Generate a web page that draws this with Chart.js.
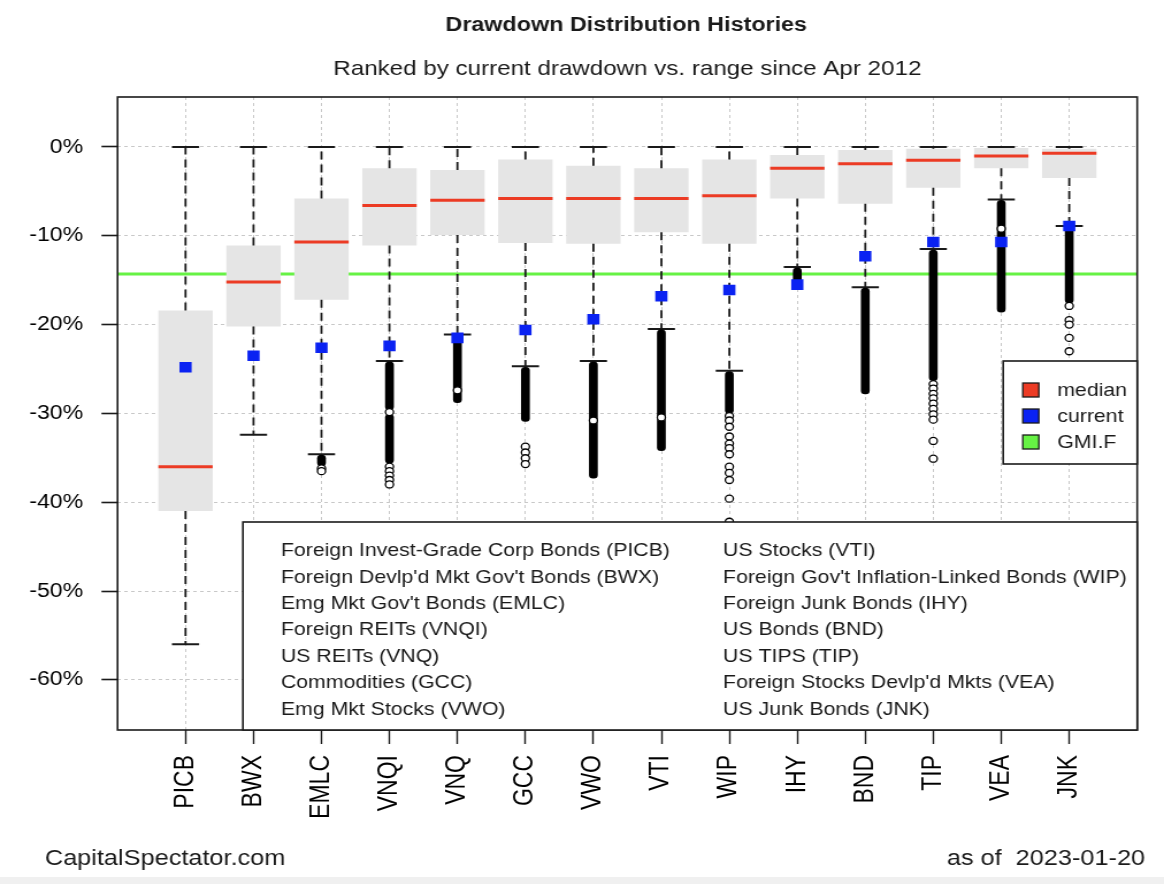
<!DOCTYPE html>
<html><head><meta charset="utf-8">
<script src="https://cdn.jsdelivr.net/npm/chart.js@4.4.0/dist/chart.umd.min.js"></script>
<style>
html,body{margin:0;padding:0;background:#fff;width:1164px;height:884px;overflow:hidden;}
#wrap{position:absolute;left:0;top:0;width:1012px;height:884px;transform:scaleX(1.1502);transform-origin:0 0;}
#strip{position:absolute;left:0;top:877px;width:1164px;height:7px;background:#f0f0f0;}
</style></head><body>
<div id="wrap"><canvas id="c" width="1012" height="884"></canvas></div>
<div id="strip"></div>
<script>
// ---- data (percent drawdown) ----
const categories = ['PICB','BWX','EMLC','VNQI','VNQ','GCC','VWO','VTI','WIP','IHY','BND','TIP','VEA','JNK'];
const assetNames = [
  "Foreign Invest-Grade Corp Bonds (PICB)",
  "Foreign Devlp'd Mkt Gov't Bonds (BWX)",
  "Emg Mkt Gov't Bonds (EMLC)",
  "Foreign REITs (VNQI)",
  "US REITs (VNQ)",
  "Commodities (GCC)",
  "Emg Mkt Stocks (VWO)",
  "US Stocks (VTI)",
  "Foreign Gov't Inflation-Linked Bonds (WIP)",
  "Foreign Junk Bonds (IHY)",
  "US Bonds (BND)",
  "US TIPS (TIP)",
  "Foreign Stocks Devlp'd Mkts (VEA)",
  "US Junk Bonds (JNK)"
];
const whiskerTop    = [0, 0, 0, 0, 0, 0, 0, 0, 0, 0, 0, 0, 0, 0];
const boxHigh       = [-18.4, -11.1, -5.8, -2.4, -2.6, -1.4, -2.1, -2.4, -1.4, -0.9, -0.35, -0.2, -0.1, -0.2];
const medians       = [-36.0, -15.2, -10.7, -6.6, -6.0, -5.8, -5.8, -5.8, -5.5, -2.4, -1.9, -1.5, -1.0, -0.7];
const boxLow        = [-41.0, -20.2, -17.2, -11.1, -9.9, -10.8, -10.9, -9.6, -10.9, -5.8, -6.4, -4.6, -2.4, -3.5];
const whiskerBottom = [-56.0, -32.4, -34.6, -24.1, -21.1, -24.7, -24.1, -20.5, -25.2, -13.5, -15.8, -11.5, -5.9, -8.9];
const currentDD     = [-24.8, -23.5, -22.6, -22.4, -21.5, -20.6, -19.4, -16.8, -16.1, -15.5, -12.3, -10.7, -10.7, -8.9];
const gmiLevel = -14.3;
// dense runs of outliers (drawn as solid runs) and separate outlier circles
const outlierBands = [
  [], [],
  [[-34.7, -35.9]],
  [[-24.2, -29.6], [-30.1, -35.6]],
  [[-21.2, -28.8]],
  [[-24.8, -30.9]],
  [[-24.2, -37.3]],
  [[-20.6, -34.2]],
  [[-25.3, -30.0]],
  [[-13.6, -15.3]],
  [[-15.9, -27.8]],
  [[-11.6, -26.3]],
  [[-6.0, -18.6]],
  [[-9.0, -17.6]]
];
const outlierDots = [
  [], [],
  [-36.2, -36.5],
  [-29.85, -36.0, -36.5, -37.0, -37.5, -38.0],
  [-27.4],
  [-33.75, -34.4, -35.05, -35.7],
  [-30.8],
  [-30.45],
  [-30.3, -30.8, -31.5, -32.6, -33.4, -33.9, -34.6, -36.0, -36.7, -37.5, -39.6, -42.2],
  [],
  [],
  [-26.7, -27.2, -27.8, -28.3, -28.9, -29.5, -30.1, -30.7, -33.1, -35.1],
  [-9.2],
  [-17.9, -19.5, -20.0, -21.5, -23.0]
];
const yTickValues = [0, -10, -20, -30, -40, -50, -60];
const legendLabels = ['median', 'current', 'GMI.F'];
const titleText = 'Drawdown Distribution Histories';
const subtitleText = 'Ranked by current drawdown vs. range since Apr 2012';
const sourceText = 'CapitalSpectator.com';
const dateText = 'as of  2023-01-20';

// ---- styles ----
const RED = '#ec3b24', BLUE = '#0a22f2', GREEN = '#66f244', BOXFILL = '#e5e5e5', INK = '#1a1a1a';
const FONT = '"Liberation Sans", Arial, sans-serif';

// ---- build datasets from the arrays ----
const pos = i => i + 1;
const boxData = categories.map((c, i) => ({x: pos(i), y: [boxLow[i], boxHigh[i]]}));
const whiskers = [];
const caps = [];
const medSegs = [];
categories.forEach((c, i) => {
  whiskers.push({x: pos(i), y: boxHigh[i]}, {x: pos(i), y: whiskerTop[i]}, {x: pos(i), y: null});
  whiskers.push({x: pos(i), y: boxLow[i]}, {x: pos(i), y: whiskerBottom[i]}, {x: pos(i), y: null});
  [whiskerTop[i], whiskerBottom[i]].forEach(v => caps.push({x: pos(i) - 0.2, y: v}, {x: pos(i) + 0.2, y: v}, {x: pos(i), y: null}));
  medSegs.push({x: pos(i) - 0.4, y: medians[i]}, {x: pos(i) + 0.4, y: medians[i]}, {x: pos(i), y: null});
});
const bandData = [];
outlierBands.forEach((bands, i) => bands.forEach(b => bandData.push({x: pos(i), y: b})));
const dotData = [];
outlierDots.forEach((dots, i) => dots.forEach(v => dotData.push({x: pos(i), y: v})));
const currentData = currentDD.map((v, i) => ({x: pos(i), y: v}));

const decor = {
  id: 'decor',
  afterDraw(chart) {
    const {ctx, chartArea: a} = chart;
    ctx.save();
    // plot frame
    ctx.strokeStyle = INK; ctx.lineWidth = 1.6; ctx.setLineDash([]);
    ctx.strokeRect(a.left, a.top, a.right - a.left, a.bottom - a.top);
    // asset name box
    const bl = a.left + 109, bt = a.top + 425;
    ctx.fillStyle = '#fff';
    ctx.fillRect(bl, bt, a.right - bl, a.bottom - bt);
    ctx.strokeRect(bl, bt, a.right - bl, a.bottom - bt);
    ctx.fillStyle = INK; ctx.font = '18.5px ' + FONT; ctx.textBaseline = 'middle'; ctx.textAlign = 'left';
    assetNames.forEach((n, i) => {
      const col = i < 7 ? 0 : 1, row = i % 7;
      ctx.fillText(n, bl + 33 + col * 384.4, bt + 29 + row * 26.45);
    });
    // series legend
    const ll = a.right - 116.5, lt = a.top + 264, lb = a.top + 367;
    ctx.fillStyle = '#fff';
    ctx.fillRect(ll, lt, a.right - ll, lb - lt);
    ctx.strokeRect(ll, lt, a.right - ll, lb - lt);
    const cols = [RED, BLUE, GREEN];
    legendLabels.forEach((t, i) => {
      const cy = lt + 29 + i * 26;
      ctx.fillStyle = cols[i];
      ctx.fillRect(ll + 17, cy - 7, 14, 14);
      ctx.lineWidth = 1.3; ctx.strokeStyle = INK;
      ctx.strokeRect(ll + 17, cy - 7, 14, 14);
      ctx.fillStyle = INK; ctx.font = '18.5px ' + FONT;
      ctx.fillText(t, ll + 47, cy + 1);
    });
    // titles
    const cx = (a.left + a.right) / 2;
    ctx.textAlign = 'center';
    ctx.font = 'bold 20.3px ' + FONT; ctx.fillText(titleText, cx - 1, 25);
    ctx.font = '21px ' + FONT; ctx.fillText(subtitleText, cx, 69);
    // footer
    ctx.font = '22px ' + FONT;
    ctx.textAlign = 'left'; ctx.fillText(sourceText, 39, 859);
    ctx.textAlign = 'right'; ctx.fillText(dateText, 995.6, 859);
    ctx.restore();
  }
};

new Chart(document.getElementById('c'), {
  type: 'bar',
  data: {
    datasets: [
      {type: 'line', label: 'GMI.F', data: [{x: 0, y: gmiLevel}, {x: 15, y: gmiLevel}], borderColor: GREEN, borderWidth: 3, pointRadius: 0, order: 10},
      {type: 'bar', label: 'box', data: boxData, backgroundColor: BOXFILL, borderWidth: 0, grouped: false, barPercentage: 0.8, categoryPercentage: 1, order: 9},
      {type: 'line', label: 'whiskers', data: whiskers, borderColor: INK, borderWidth: 1.8, borderDash: [8, 5], pointRadius: 0, spanGaps: false, order: 8},
      {type: 'line', label: 'staples', data: caps, borderColor: INK, borderWidth: 2, pointRadius: 0, spanGaps: false, order: 8},
      {type: 'bar', label: 'outlier runs', data: bandData, backgroundColor: '#000', borderWidth: 0, borderRadius: 3.5, borderSkipped: false, grouped: false, barThickness: 7, order: 7},
      {type: 'scatter', label: 'outliers', data: dotData, pointStyle: 'circle', pointRadius: 3.5, pointBackgroundColor: '#fff', pointBorderColor: '#000', pointBorderWidth: 1.3, order: 6},
      {type: 'line', label: 'median', data: medSegs, borderColor: RED, borderWidth: 3, pointRadius: 0, spanGaps: false, order: 5},
      {type: 'scatter', label: 'current', data: currentData, pointStyle: 'rect', pointRadius: 7.5, pointBackgroundColor: BLUE, pointBorderWidth: 0, order: 4}
    ]
  },
  options: {
    responsive: false,
    devicePixelRatio: 1,
    animation: false,
    events: [],
    layout: {padding: {top: 97, right: 23.3, bottom: 54, left: 0}},
    plugins: {legend: {display: false}, tooltip: {enabled: false}, title: {display: false}},
    scales: {
      x: {
        type: 'linear', min: 0, max: 15, offset: false,
        afterBuildTicks: s => { s.ticks = categories.map((c, i) => ({value: pos(i)})); },
        afterFit: s => { s.height = 100; },
        ticks: {autoSkip: false, minRotation: 90, maxRotation: 90, padding: 11, color: '#000',
          font: {family: FONT, size: 23}, callback: v => categories[v - 1]},
        grid: {offset: false, color: '#c8c8c8', lineWidth: 1, drawTicks: true, tickLength: 14, tickColor: INK, tickWidth: 1.4, tickBorderDash: []},
        border: {display: false, dash: [3, 3]}
      },
      y: {
        type: 'linear', min: -65.65, max: 5.63,
        afterBuildTicks: s => { s.ticks = yTickValues.map(v => ({value: v})); },
        afterFit: s => { s.width = 102.2; },
        ticks: {padding: 16, color: '#000', font: {family: FONT, size: 20}, callback: v => v + '%'},
        grid: {offset: false, color: '#c8c8c8', lineWidth: 1, drawTicks: true, tickLength: 14, tickColor: INK, tickWidth: 1.6, tickBorderDash: []},
        border: {display: false, dash: [3, 3]}
      }
    }
  },
  plugins: [decor]
});
</script>
</body></html>
